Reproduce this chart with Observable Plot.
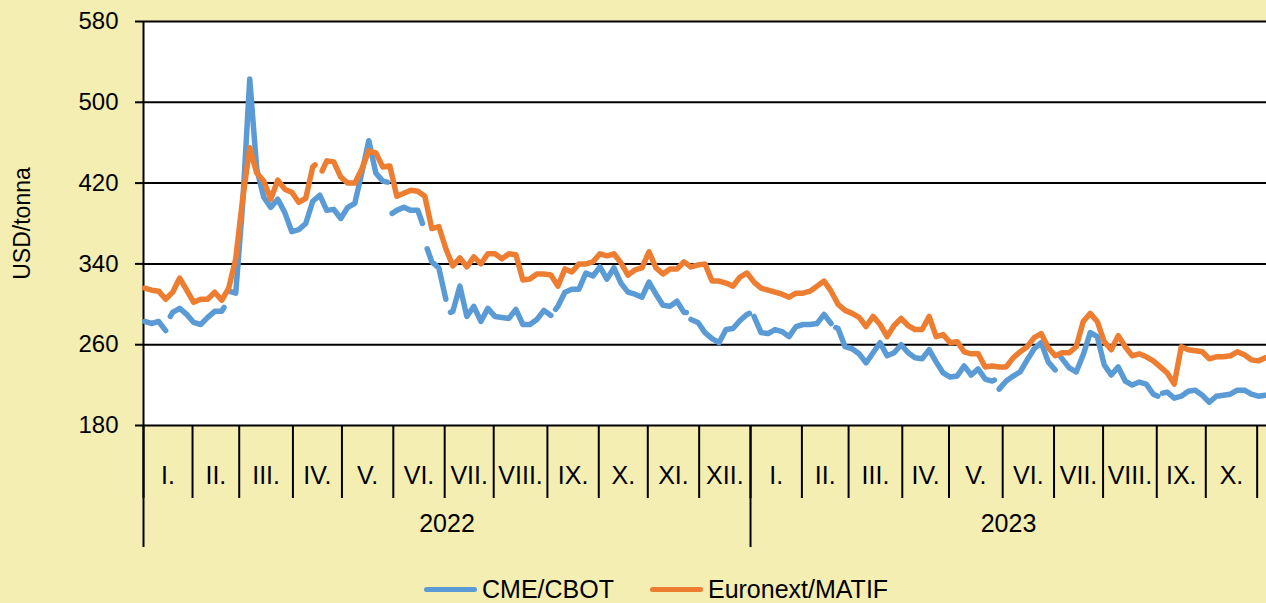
<!DOCTYPE html>
<html>
<head>
<meta charset="utf-8">
<script src="https://cdn.jsdelivr.net/npm/d3@7"></script>
<script src="https://cdn.jsdelivr.net/npm/@observablehq/plot@0.6"></script>
<style>
  html, body { margin: 0; padding: 0; background: #F5EEB2; }
  #chart { position: relative; width: 1266px; height: 603px; overflow: hidden; font-family: "Liberation Sans", Arial, sans-serif; }
  #legend { position: absolute; left: 424px; top: 576px; display: flex; align-items: center; font-size: 25px; line-height: 26px; white-space: nowrap; color: #000; }
  .item { display: flex; align-items: center; margin-right: 36px; }
  .sw { display: inline-block; width: 53px; height: 5px; border-radius: 3px; margin-right: 5px; }
</style>
</head>
<body>
<div id="chart"><div id="legend"></div></div>
<script>
// ---- data ----
const startDate = "2022-01-03";      // first trading day shown
const endDate = "2023-11-07";        // day after last trading day shown
const sampleStep = 3;                // trading days between samples
const seriesNames = ["CME/CBOT", "Euronext/MATIF"];
const seriesColors = ["#5B9BD5", "#ED7D31"];
const cmeValues = [
  283, 281, 283, 274, 292, 296, 290, 282, 280, 287,
  293, 293, 313, 311, 400, 523, 434, 406, 396, 404,
  391, 372, 374, 380, 402, 408, 393, 394, 385, 396,
  400, 430, 462, 430, 422, null, 393, 396, 393, 393,
  null, 342, 336, 305, 293, 318, 288, 298, 283, 296,
  288, 287, 286, 295, 280, 280, 285, 294, 289, 298,
  312, 315, 315, 331, 328, 337, 325, 336, 321, 312,
  310, 307, 322, 310, 299, 298, 303, 292, 285, 282,
  272, 266, 262, 275, 276, 284, 290, 288, 272, 271,
  275, 273, 268, 278, 280, 280, 281, 290, 281, 276,
  258, 256, 251, 242, 252, 262, 249, 252, 260, 252,
  247, 246, 255, 243, 232, 228, 229, 239, 230, 236,
  226, 224, 216, 224, 229, 233, 245, 256, 262, 243,
  235, 246, 237, 233, 250, 272, 268, 240, 230, 238,
  224, 220, 223, 221, 211, null, 213, 207, 209, 214,
  215, 210, 203, 209, 210, 211, 215, 215, 211, 209, 210
];
const matifValues = [
  316, 314, 313, 305, 312, 326, 314, 302, 305, 305,
  312, 304, 316, 345, 405, 455, 430, 422, 404, 423,
  414, 411, 401, 405, 436, null, 442, 441, 426, 420,
  420, 434, 452, 450, 436, 437, 407, 410, 413, 412,
  407, 375, 377, 355, 338, 346, 337, 347, 340, 350,
  350, 345, 350, 349, 324, 325, 330, 330, 329, 318,
  335, 332, 340, 340, 342, 350, 348, 350, 341, 329,
  334, 336, 352, 336, 330, 335, 335, 342, 337, 339,
  340, 323, 323, 321, 318, 327, 331, 322, 316, 314,
  312, 310, 307, 311, 311, 313, 318, 323, 313, 300,
  294, 291, 287, 278, 288, 280, 268, 279, 286, 279,
  275, 275, 288, 268, 270, 262, 263, 253, 251, 251,
  238, 239, 238, 238, 247, 253, 258, 267, 271, 257,
  249, 252, 252, 258, 283, 291, 283, 263, 255, 269,
  258, 249, 251, 248, 244, 238, 232, 221, 258, 255,
  254, 253, 246, 248, 248, 249, 253, 250, 245, 244, 247
];
// days with no quote (line breaks)
const cmeGaps = ["2022-01-17", "2022-02-21", "2022-05-30", "2022-06-20", "2022-07-04", "2022-09-05",
  "2022-11-24", "2023-01-02", "2023-02-20", "2023-05-29", "2023-07-04", "2023-09-04"];
const matifGaps = ["2022-04-15", "2022-04-18"];
// quotes on the days right next to the gaps
const cmeEdgeDates = ["2022-01-18", "2022-02-18", "2022-05-27", "2022-05-31", "2022-06-17", "2022-06-21",
  "2022-07-05", "2022-09-06", "2022-11-23", "2022-12-30", "2023-02-21", "2023-05-26", "2023-07-05",
  "2023-09-01", "2023-09-05"];
const cmeEdgeValues = [288, 297, 421, 390, 380, 355, 292, 295, 292, 291, 277, 225, 249, 209, 212];
const matifEdgeDates = ["2022-04-14", "2022-04-19"];
const matifEdgeValues = [438, 432];
const monthLabels = ["I.", "II.", "III.", "IV.", "V.", "VI.", "VII.", "VIII.", "IX.", "X.", "XI.", "XII."];
const labelEndMonth = "2023-11-01";  // months labelled up to here
const yTicks = [180, 260, 340, 420, 500, 580];
const yTitle = "USD/tonna";

// ---- helpers ----
const DAY = 864e5;
const t0 = Date.parse(startDate + "T00:00:00Z");
function isWeekday(ms) { const w = new Date(ms).getUTCDay(); return w !== 0 && w !== 6; }
function weekdayIndex(dateStr) {
  const t = Date.parse(dateStr + "T00:00:00Z");
  let n = 0;
  for (let ms = t0; ms < t; ms += DAY) if (isWeekday(ms)) n++;
  return n;
}
function buildRows(values, gaps, edgeDates, edgeValues) {
  const rows = values.map((v, i) => ({d: i * sampleStep, value: v}));
  gaps.forEach(g => rows.push({d: weekdayIndex(g), value: null}));
  edgeDates.forEach((e, i) => rows.push({d: weekdayIndex(e), value: edgeValues[i]}));
  rows.sort((a, b) => a.d - b.d);
  return rows;
}
const cmeRows = buildRows(cmeValues, cmeGaps, cmeEdgeDates, cmeEdgeValues);
const matifRows = buildRows(matifValues, matifGaps, matifEdgeDates, matifEdgeValues);

// month & year boundaries on the trading-day axis
const tEnd = Date.parse(endDate + "T00:00:00Z");
const tLabEnd = Date.parse(labelEndMonth + "T00:00:00Z");
const monthStarts = [];
let idx = 0, lastKey = null;
for (let ms = t0; ms < tEnd; ms += DAY) {
  if (!isWeekday(ms)) continue;
  const dt = new Date(ms);
  const key = dt.getUTCFullYear() * 12 + dt.getUTCMonth();
  if (key !== lastKey) { monthStarts.push({d: idx - 0.5, month: dt.getUTCMonth(), year: dt.getUTCFullYear(), ms}); lastKey = key; }
  idx++;
}
const totalDays = idx;
const monthBounds = monthStarts.filter(m => m.ms <= tLabEnd).map(m => m.d);
const monthRows = [];
for (let i = 0; i < monthStarts.length - 1; i++) {
  if (monthStarts[i].ms >= tLabEnd) break;
  monthRows.push({mid: (monthStarts[i].d + monthStarts[i + 1].d) / 2, label: monthLabels[monthStarts[i].month]});
}
const yearStarts = monthStarts.filter(m => m.month === 0);
const yearBounds = yearStarts.map(m => m.d);
const xMax = totalDays - 0.5;
const yearRows = yearStarts.map((m, i) => ({
  mid: (m.d + (i + 1 < yearStarts.length ? yearStarts[i + 1].d : xMax)) / 2,
  label: String(m.year)
}));

const chart = Plot.plot({
  width: 1266,
  height: 570,
  marginLeft: 143,
  marginRight: 0,
  marginTop: 21,
  marginBottom: 145,
  style: {background: "#F5EEB2", fontFamily: "'Liberation Sans', Arial, sans-serif", color: "#000", overflow: "visible"},
  x: {domain: [-0.5, xMax]},
  y: {domain: [180, 580]},
  marks: [
    Plot.frame({fill: "white", stroke: "none"}),
    Plot.ruleY(yTicks, {stroke: "#000", strokeWidth: 2}),
    Plot.ruleX([-0.5], {stroke: "#000", strokeWidth: 2}),
    Plot.axisY({ticks: yTicks, tickSize: 8, tickPadding: 17, fontSize: 24, label: null, strokeWidth: 2, tickFormat: d => String(d)}),
    Plot.axisX({ticks: monthBounds, tickSize: 73, strokeWidth: 2, label: null, tickFormat: () => ""}),
    Plot.axisX({ticks: yearBounds, tickSize: 122, strokeWidth: 2, label: null, tickFormat: () => ""}),
    Plot.text(monthRows, {x: "mid", text: "label", frameAnchor: "bottom", dy: 58, fontSize: 25}),
    Plot.text(yearRows, {x: "mid", text: "label", frameAnchor: "bottom", dy: 106, fontSize: 25}),
    Plot.text([yTitle], {text: d => d, frameAnchor: "left", textAnchor: "middle", dx: -121, rotate: -90, fontSize: 23}),
    Plot.line(cmeRows, {x: "d", y: "value", stroke: seriesColors[0], strokeWidth: 5.5, strokeLinejoin: "round", strokeLinecap: "round"}),
    Plot.line(matifRows, {x: "d", y: "value", stroke: seriesColors[1], strokeWidth: 5.5, strokeLinejoin: "round", strokeLinecap: "round"})
  ]
});
const container = document.getElementById("chart");
container.insertBefore(chart, container.firstChild);

const legend = document.getElementById("legend");
seriesNames.forEach((name, i) => {
  const item = document.createElement("div");
  item.className = "item";
  const sw = document.createElement("span");
  sw.className = "sw";
  sw.style.background = seriesColors[i];
  const tx = document.createElement("span");
  tx.textContent = name;
  item.appendChild(sw); item.appendChild(tx);
  legend.appendChild(item);
});
</script>
</body>
</html>
